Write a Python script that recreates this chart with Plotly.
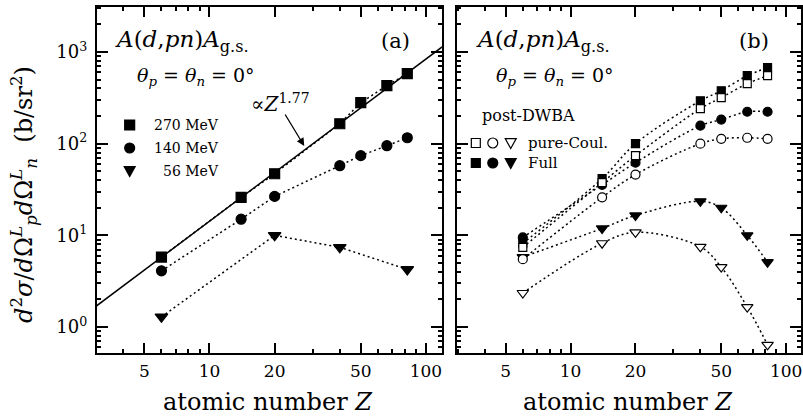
import numpy as np
import plotly.graph_objects as go

W, H = 803, 417
SERIF = "DejaVu Serif"

# ---- panel (a): measured zero-degree breakup cross sections ----
Z_a = [6, 14, 20, 40, 50, 66, 82]
sig_270 = [5.8, 26, 47, 165, 280, 430, 580]
sig_140 = [4.1, 15, 26.6, 57.5, 74, 95, 116]
Z_56 = [6, 20, 40, 82]
sig_56 = [1.29, 10, 7.4, 4.25]

# power-law guide  sigma = norm * Z^exp
fit_exp = 1.77
fit_norm = 0.242
fit_Z = [3, 120]

# ---- panel (b): post-DWBA, pure-Coulomb vs full ----
Z_b = [6, 14, 20, 40, 50, 66, 82]
full_270 = [8.2, 41.5, 100, 294, 378, 552, 675]
coul_270 = [7.4, 37.6, 74, 241, 318, 451, 552]
full_140 = [9.5, 35.6, 62, 157, 183, 223, 223]
coul_140 = [5.5, 26, 46, 100, 113, 116, 113]
full_56 = [5.8, 11.9, 16.5, 23.5, 20, 10, 5.1]
coul_56 = [2.35, 8.2, 10.8, 7.5, 4.5, 1.65, 0.64]

# axis ticks
x_major = [5, 10, 20, 50, 100]
x_major_text = ["5", "10", "20", "50", "100"]
x_minor = [3, 4, 6, 7, 8, 9, 30, 40, 60, 70, 80, 90]
y_major = [1, 10, 100, 1000]
y_major_text = ["10<sup>0</sup>", "10<sup>1</sup>", "10<sup>2</sup>", "10<sup>3</sup>"]
y_minor = [m * 10.0 ** e for e in range(-1, 4) for m in range(2, 10)]

DOT = "2px,3px"

fig = go.Figure()


def add_series(x, y, symbol, size, filled, xa, ya, shape="linear", solid=False):
    fig.add_trace(go.Scatter(
        x=x, y=y, mode="lines+markers" if symbol else "lines",
        xaxis=xa, yaxis=ya, showlegend=False, hoverinfo="skip",
        line=dict(color="black", width=1.5, dash="solid" if solid else DOT,
                  shape=shape, smoothing=1.0),
        marker=dict(symbol=symbol or "circle", size=size,
                    color="black" if filled else "white",
                    line=dict(color="black", width=1.2)),
    ))


# panel (a)
fit_sig = [fit_norm * z ** fit_exp for z in fit_Z]
add_series(fit_Z, fit_sig, None, 0, True, "x", "y", solid=True)
add_series(Z_a, sig_270, "square", 10, True, "x", "y")
add_series(Z_a, sig_140, "circle", 10, True, "x", "y")
add_series(Z_56, sig_56, "triangle-down", 11, True, "x", "y")

# panel (b)
add_series(Z_b, full_56, "triangle-down", 10, True, "x2", "y2", shape="spline")
add_series(Z_b, coul_56, "triangle-down", 10, False, "x2", "y2", shape="spline")
add_series(Z_b, full_140, "circle", 9, True, "x2", "y2", shape="spline")
add_series(Z_b, full_270, "square", 8, True, "x2", "y2", shape="spline")
add_series(Z_b, coul_140, "circle", 9, False, "x2", "y2", shape="spline")
add_series(Z_b, coul_270, "square", 8, False, "x2", "y2", shape="spline")


def xaxis(domain, rng, anchor):
    return dict(
        type="log", domain=domain, range=rng, anchor=anchor,
        showline=True, linewidth=2, linecolor="black", mirror="allticks",
        ticks="inside", ticklen=10, tickwidth=1.5, tickcolor="black",
        tickmode="array", tickvals=x_major, ticktext=x_major_text,
        minor=dict(tickmode="array", tickvals=x_minor, ticks="inside",
                   ticklen=4, tickwidth=1.5, tickcolor="black", showgrid=False),
        showgrid=False, zeroline=False, ticklabelstandoff=2,
        tickfont=dict(family=SERIF, size=17, color="black"),
    )


def yaxis(anchor, labels):
    return dict(
        type="log", domain=[1 - 353 / H, 1 - 7 / H], range=[-0.2835, 3.491],
        anchor=anchor, showline=True, linewidth=2, linecolor="black",
        mirror="allticks", ticks="inside", ticklen=11, tickwidth=1.5,
        tickcolor="black", tickmode="array", tickvals=y_major,
        ticktext=y_major_text, showticklabels=labels, ticklabelstandoff=4,
        minor=dict(tickmode="array", tickvals=y_minor, ticks="inside",
                   ticklen=4, tickwidth=1.5, tickcolor="black", showgrid=False),
        showgrid=False, zeroline=False,
        tickfont=dict(family=SERIF, size=18, color="black"),
    )


fig.update_layout(
    width=W, height=H, margin=dict(l=0, r=0, t=0, b=0),
    paper_bgcolor="white", plot_bgcolor="white",
    xaxis=xaxis([97 / W, 443 / W], [0.4793, 2.0737], "y"),
    xaxis2=xaxis([458 / W, 1.0], [0.4722, 2.069], "y2"),
    yaxis=yaxis("x", True),
    yaxis2=yaxis("x2", False),
)


def px(x, y):
    return x / W, 1 - y / H


def text(x, y, s, size, xanchor="left", angle=0):
    xp, yp = px(x, y)
    fig.add_annotation(x=xp, y=yp, xref="paper", yref="paper", text=s,
                       showarrow=False, xanchor=xanchor, yanchor="middle",
                       textangle=angle,
                       font=dict(family=SERIF, size=size, color="black"))


reaction = "<i>A</i>(<i>d</i>,<i>pn</i>)<i>A</i><sub>g.s.</sub>"
angles = "<i>θ<sub>p</sub></i> = <i>θ<sub>n</sub></i> = 0°"

text(113, 41, reaction, 23)
text(135, 77, angles, 19)
text(396, 41, "(a)", 21, "center")
text(250, 103, "∝<i>Z</i><sup>1.77</sup>", 20)
text(152, 125, "270 MeV", 14)
text(152, 148, "140 MeV", 14)
text(161, 171, "56 MeV", 14)

text(475, 41, reaction, 23)
text(495, 77, angles, 19)
text(756, 41, "(b)", 21, "center")
text(481, 115, "post-DWBA", 16)
text(527, 143, "pure-Coul.", 15)
text(527, 163, "Full", 15)

text(269, 402, "atomic number <i>Z</i>", 24, "center")
text(630, 402, "atomic number <i>Z</i>", 24, "center")
text(23, 194,
     "<i>d</i><sup>2</sup><i>σ</i>/<i>d</i>Ω<sup><i>L</i></sup><sub><i>p</i></sub>"
     "<i>d</i>Ω<sup><i>L</i></sup><sub><i>n</i></sub>  (b/sr<sup>2</sup>)",
     24, "center", -90)

# arrow pointing at the power-law line
hx, hy = px(305, 146)
fig.add_annotation(x=hx, y=hy, xref="paper", yref="paper", text="",
                   showarrow=True, ax=-20, ay=-33, arrowhead=2, arrowsize=1.2,
                   arrowwidth=1.3, arrowcolor="black")


# legend keys drawn as shapes in pixel space
def key(kind, cx, cy, s, filled):
    fill = "black" if filled else "white"
    common = dict(xref="paper", yref="paper", fillcolor=fill,
                  line=dict(color="black", width=1.2), layer="above")
    if kind == "square":
        x0, y1 = px(cx - s / 2, cy - s / 2)
        x1, y0 = px(cx + s / 2, cy + s / 2)
        fig.add_shape(type="rect", x0=x0, x1=x1, y0=y0, y1=y1, **common)
    elif kind == "circle":
        x0, y1 = px(cx - s / 2, cy - s / 2)
        x1, y0 = px(cx + s / 2, cy + s / 2)
        fig.add_shape(type="circle", x0=x0, x1=x1, y0=y0, y1=y1, **common)
    else:
        a = px(cx - s / 2, cy - s * 0.4)
        b = px(cx + s / 2, cy - s * 0.4)
        c = px(cx, cy + s * 0.5)
        path = f"M{a[0]},{a[1]} L{b[0]},{b[1]} L{c[0]},{c[1]} Z"
        fig.add_shape(type="path", path=path, **common)


key("square", 130, 125, 10, True)
key("circle", 130, 148, 10, True)
key("tri", 130, 171, 11, True)

key("square", 477, 143, 9, False)
key("circle", 494, 143, 10, False)
key("tri", 512, 143, 11, False)
key("square", 477, 163, 9, True)
key("circle", 494, 163, 10, True)
key("tri", 512, 163, 11, True)

fig.write_html("out.html")
